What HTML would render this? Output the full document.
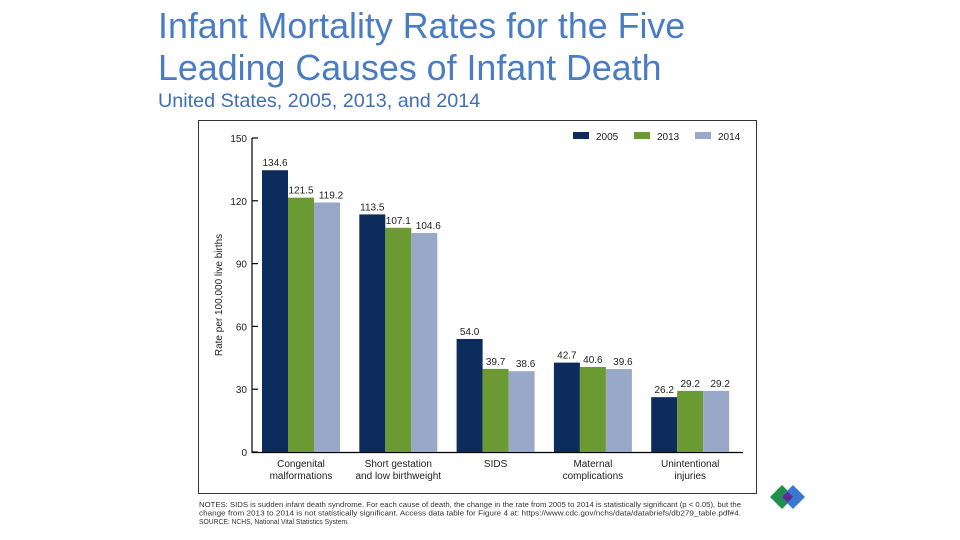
<!DOCTYPE html>
<html><head><meta charset="utf-8"><style>
body{margin:0;width:960px;height:540px;background:#fff;overflow:hidden;position:relative;font-family:"Liberation Sans",sans-serif}
.t{position:absolute;left:158px;color:#4a7cc4;white-space:nowrap;line-height:1}
</style></head><body>
<div class="t" style="top:9px;font-size:35.8px">Infant Mortality Rates for the Five</div>
<div class="t" style="top:51px;font-size:35.8px">Leading Causes of Infant Death</div>
<div class="t" style="top:92px;font-size:19.8px;color:#3f6fba">United States, 2005, 2013, and 2014</div>
<svg id="c" width="960" height="540" style="position:absolute;left:0;top:0"></svg>
<script>
const categories=[["Congenital","malformations"],["Short gestation","and low birthweight"],["SIDS"],["Maternal","complications"],["Unintentional","injuries"]];
const seriesNames=["2005","2013","2014"];
const v2005=[134.6,113.5,54.0,42.7,26.2];
const v2013=[121.5,107.1,39.7,40.6,29.2];
const v2014=[119.2,104.6,38.6,39.6,29.2];
const yTicks=[0,30,60,90,120,150];
const colors=["#0d2c5e","#6a9a31","#98a8c8"];
const series=[v2005,v2013,v2014];
const svg=document.getElementById('c');
const NS="http://www.w3.org/2000/svg";
function mk(t,a,p){const e=document.createElementNS(NS,t);for(const k in a)e.setAttribute(k,a[k]);(p||svg).appendChild(e);return e;}
const y0=452,y1=138,yMax=150;
function y(v){return y0-(v/yMax)*(y0-y1);}
const gx0=262,gStep=97.3,bw=26;
function x(i,s){return gx0+i*gStep+s*bw;}
let e=mk('rect',{x:198.5,y:120.5,width:558,height:373,fill:'none',stroke:'#333','stroke-width':1});

e=mk('line',{x1:252,y1:138,x2:252,y2:453,stroke:'#000','stroke-width':1.2});

e=mk('line',{x1:252,y1:452.5,x2:743,y2:452.5,stroke:'#000','stroke-width':1.2});

yTicks.forEach(t=>{
 const l=mk('line',{x1:252,x2:258,y1:y(t),y2:y(t),stroke:'#000','stroke-width':1.2});
 
 const tx=mk('text',{x:247,y:y(t)+4,'text-anchor':'end','font-size':10,fill:'#222'});tx.textContent=t;
 
});
e=mk('text',{x:0,y:0,transform:'translate(222,295) rotate(-90)','text-anchor':'middle','font-size':10,fill:'#222'});
e.textContent='Rate per 100,000 live births';

categories.forEach((c,i)=>{
 series.forEach((s,si)=>{
  const r=mk('rect',{x:x(i,si),y:y(s[i]),width:bw,height:y0-y(s[i]),fill:colors[si]});
  
  const t=mk('text',{x:x(i,si)+bw/2+(si==2?4:0),y:y(s[i])-4,'text-anchor':'middle','font-size':10,fill:'#222'});
  t.textContent=s[i].toFixed(1);
  
 });
 c.forEach((ln,li)=>{
  const t=mk('text',{x:x(i,0)+1.5*bw,y:467+li*12,'text-anchor':'middle','font-size':10,fill:'#222'});t.textContent=ln;
  
 });
});
seriesNames.forEach((n,si)=>{
 const lx=573+si*61;
 const r=mk('rect',{x:lx,y:132,width:16,height:7,fill:colors[si]});
 
 const t=mk('text',{x:lx+23,y:140,'font-size':10,fill:'#222'});t.textContent=n;
 
});
const notes=["NOTES: SIDS is sudden infant death syndrome. For each cause of death, the change in the rate from 2005 to 2014 is statistically significant (p < 0.05), but the","change from 2013 to 2014 is not statistically significant. Access data table for Figure 4 at: https://www.cdc.gov/nchs/data/databriefs/db279_table.pdf#4.","SOURCE: NCHS, National Vital Statistics System."];
notes.forEach((n,i)=>{const t=mk('text',{x:199,y:507+i*8.5,'font-size':7,fill:'#333',textLength:i<2?542:150,lengthAdjust:'spacingAndGlyphs'});t.textContent=n;
 });
const g=mk('g',{});
mk('polygon',{points:'770,497 782,485 794,497 782,509',fill:'#1f8f4a'},g);
mk('polygon',{points:'781,497 793,485 805,497 793,509',fill:'#3b78d0'},g);
mk('polygon',{points:'782,497 787.5,491.5 793,497 787.5,502.5',fill:'#5a2f8f'},g);
</script>
</body></html>
